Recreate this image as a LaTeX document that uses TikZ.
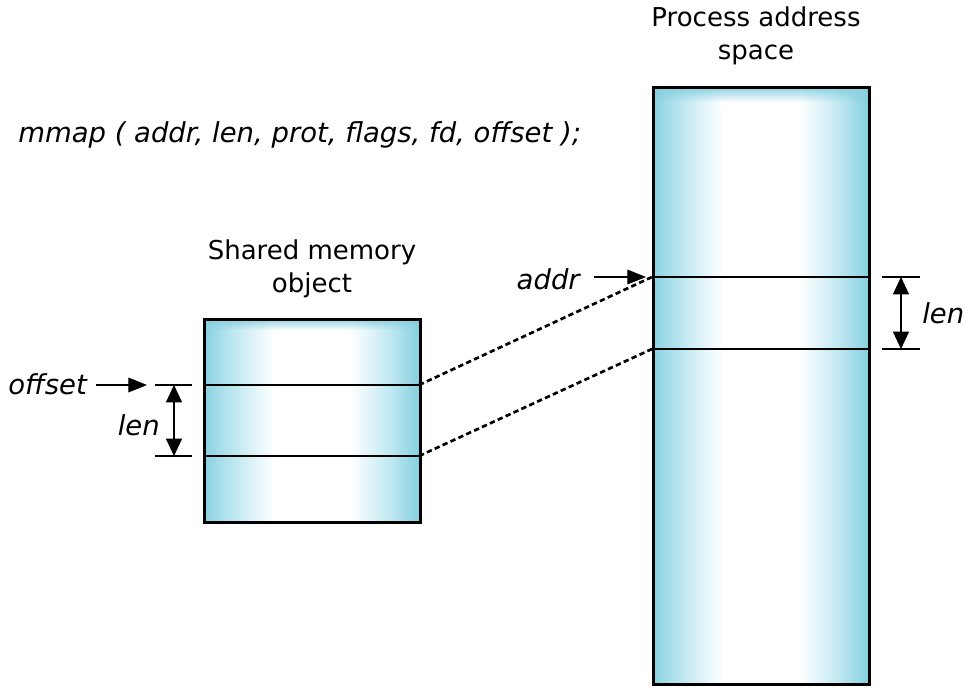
\documentclass[tikz,border=0pt]{standalone}
\usepackage{fontspec}
\setmainfont{DejaVu Sans}
\usetikzlibrary{arrows.meta,fadings}
\definecolor{memblue}{RGB}{134,207,223}
\definecolor{memmidA}{RGB}{160,219,231}
\definecolor{memmid}{RGB}{190,231,240}
\definecolor{memlight}{RGB}{222,243,248}
\pgfdeclarehorizontalshading{memh}{100bp}{color(0bp)=(memblue); color(25bp)=(memblue); color(28bp)=(memmidA); color(32bp)=(memmid); color(36.5bp)=(memlight); color(41.5bp)=(white); color(59bp)=(white); color(64bp)=(memlight); color(68.5bp)=(memmid); color(72bp)=(memmidA); color(75bp)=(memblue); color(100bp)=(memblue)}
\begin{document}
\begin{tikzpicture}[x=0.75pt,y=-0.75pt,
  thinline/.style={line width=0.8pt},
  arr/.style={line width=0.9pt,-{Triangle[length=14pt,width=11pt]}},
  darr/.style={line width=0.9pt,{Triangle[length=13pt,width=12pt]}-{Triangle[length=13pt,width=12pt]}},
  dashline/.style={line width=2pt,dash pattern=on 4pt off 2.5pt},
  memshade/.style={shading=memh},
  frame/.style={draw=black,line width=2.2pt,inner sep=0pt,anchor=north west},
  lbl/.style={font=\fontsize{19.5pt}{24.5pt}\selectfont,inner sep=0pt},
  ilbl/.style={font=\fontsize{20.6pt}{24pt}\selectfont\itshape,inner sep=0pt}]
\useasboundingbox (0,0) rectangle (972,690);
% shared memory object
\shade[memshade] (203,318) rectangle (419,521);
\fill[memblue,path fading=south] (203,318) rectangle (419,330);
\node[frame,minimum width=162pt,minimum height=152.25pt] (shm) at (203,318) {};
% process address space
\shade[memshade] (652,86) rectangle (868,683);
\fill[memblue,path fading=south] (652,86) rectangle (868,102);
\node[frame,minimum width=162pt,minimum height=447.75pt] (pas) at (652,86) {};
% inner lines
\coordinate (s1l) at (203,385); \coordinate (s1r) at (419,385);
\coordinate (s2l) at (203,456); \coordinate (s2r) at (419,456);
\coordinate (p1l) at (652,277); \coordinate (p1r) at (868,277);
\coordinate (p2l) at (652,349); \coordinate (p2r) at (868,349);
\draw[thinline] (s1l) -- (s1r);
\draw[thinline] (s2l) -- (s2r);
\draw[thinline] (p1l) -- (p1r);
\draw[thinline] (p2l) -- (p2r);
% dashed mapping
\draw[dashline] (s1r) -- (p1l);
\draw[dashline] (s2r) -- (p2l);
% texts
\node[lbl,align=center] (ptitle) at (756,36) {Process address\\space};
\node[lbl,align=center] (stitle) at (312,269) {Shared memory\\object};
\node[ilbl,anchor=west] (call) at (18,135) {mmap ( addr, len, prot, flags, fd, offset );};
\node[ilbl,anchor=east] (addr) at (580,279) {addr};
\node[ilbl,anchor=west] (offset) at (8,384) {offset};
\node[ilbl,anchor=east] (len1) at (160,425) {len};
\node[ilbl,anchor=west] (len2) at (922,313) {len};
% arrows
\coordinate (aa) at (594,277); \coordinate (ab) at (646,277);
\draw[arr] (aa) -- (ab);
\coordinate (oa) at (96,385); \coordinate (ob) at (147,385);
\draw[arr] (oa) -- (ob);
% ticks left
\coordinate (lt1a) at (155,385); \coordinate (lt1b) at (192,385);
\coordinate (lt2a) at (155,456); \coordinate (lt2b) at (192,456);
\draw[thinline] (lt1a) -- (lt1b);
\draw[thinline] (lt2a) -- (lt2b);
\coordinate (ld1) at (174,385); \coordinate (ld2) at (174,456);
\draw[darr] (ld1) -- (ld2);
% ticks right
\coordinate (rt1a) at (882,277); \coordinate (rt1b) at (920,277);
\coordinate (rt2a) at (882,349); \coordinate (rt2b) at (920,349);
\draw[thinline] (rt1a) -- (rt1b);
\draw[thinline] (rt2a) -- (rt2b);
\coordinate (rd1) at (901,277); \coordinate (rd2) at (901,349);
\draw[darr] (rd1) -- (rd2);
\end{tikzpicture}
\end{document}
